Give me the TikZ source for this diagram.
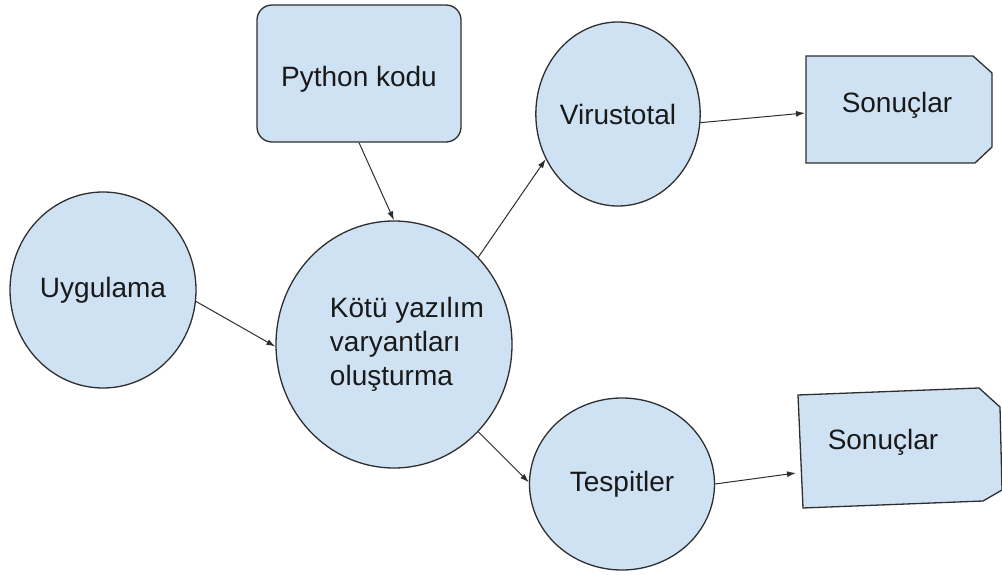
\documentclass[tikz,border=0pt]{standalone}
\usepackage{fontspec}
\setmainfont{Liberation Sans}
\usetikzlibrary{shapes.geometric,arrows.meta}
\definecolor{kutu}{HTML}{CFE2F3}
\definecolor{cizgi}{HTML}{2E2E2E}
\begin{document}
\begin{tikzpicture}[x=1pt, y=-1pt,
    blob/.style={ellipse, draw=cizgi, fill=kutu, line width=1.3pt, inner sep=0pt, text=black!90},
    ok/.style={-{Latex[length=9pt,width=6pt]}, line width=1pt, cizgi}]
    \useasboundingbox (0,0) rectangle (1002,575);
    \fontsize{28}{34}\selectfont

    \node[draw=cizgi, fill=kutu, line width=1.3pt, rounded corners=15pt, minimum width=204pt, minimum height=137pt,
        label={[yshift=-6pt, text=black!90]center:Python kodu}] (python) at (359,73.5) {};
    \node[blob, minimum width=186pt, minimum height=196pt] (uygulama) at (103,290) {Uygulama};
    \node[blob, minimum width=236pt, minimum height=247pt,
        label={[xshift=13pt, align=left, text=black!90]center:Kötü yazılım\\varyantları\\oluşturma}] (kotu) at (394,344.5) {};
    \node[blob, minimum width=163pt, minimum height=184pt] (virustotal) at (618,114) {Virustotal};
    \node[blob, minimum width=185pt, minimum height=172pt] (tespitler) at (622,484) {Tespitler};

    \draw [fill=kutu, draw=cizgi, line width=1.3pt] (806,56) -- (973,56) -- (992,73) -- (992,147) -- (975,163) -- (806,163) -- cycle;
    \draw [fill=kutu, draw=cizgi, line width=1.3pt] (798,395) -- (979,388) -- (1000,407) -- (1002,490) -- (983,501) -- (803,508) -- cycle;
    \node[text=black!90] (sonuc1) at (897,105) {Sonuçlar};
    \node[text=black!90] (sonuc2) at (883,442) {Sonuçlar};
    \coordinate (sonuc1giris) at (805,113);
    \coordinate (sonuc2giris) at (796,473);

    \draw [ok] (python.south) -- (kotu.north);
    \draw [ok] (uygulama.-7) -- (kotu.181);
    \draw [ok] (kotu.46) -- (virustotal.212);
    \draw [ok] (kotu.-46) -- (tespitler.179);
    \draw [ok] (virustotal.-6) -- (sonuc1giris);
    \draw [ok] (tespitler.east) -- (sonuc2giris);
\end{tikzpicture}
\end{document}
